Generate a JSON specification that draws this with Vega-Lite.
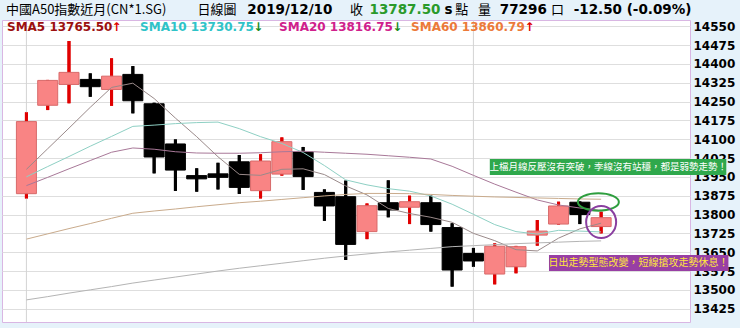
{
  "$schema": "https://vega.github.io/schema/vega-lite/v6.json",
  "width": 688,
  "height": 302,
  "autosize": {"type": "none"},
  "padding": {"left": 2, "top": 20, "right": 50, "bottom": 6},
  "background": "#e6f2fa",
  "config": {
    "view": {"fill": "white", "stroke": "#d9b6e3", "strokeWidth": 1},
    "font": "DejaVu Sans",
    "numberFormat": "d",
    "axisY": {"orient": "right", "tickCount": 20, "labelOverlap": false, "labelFont": "DejaVu Sans", "labelFontWeight": "bold", "labelFontSize": 12, "labelColor": "#000000", "ticks": false, "domain": false, "labelPadding": 3, "gridColor": "#dedede", "gridWidth": 1}
  },
  "resolve": {"scale": {"color": "independent"}},
  "datasets": {
    "candles": [
      {"i": 0, "date": "2019-11-01", "open": 13883, "high": 14207, "low": 13864, "close": 14170},
      {"i": 1, "date": "2019-11-04", "open": 14235, "high": 14336, "low": 14216, "close": 14334},
      {"i": 2, "date": "2019-11-05", "open": 14318, "high": 14491, "low": 14243, "close": 14366},
      {"i": 3, "date": "2019-11-06", "open": 14338, "high": 14362, "low": 14269, "close": 14309},
      {"i": 4, "date": "2019-11-07", "open": 14298, "high": 14422, "low": 14233, "close": 14351},
      {"i": 5, "date": "2019-11-08", "open": 14358, "high": 14391, "low": 14203, "close": 14253},
      {"i": 6, "date": "2019-11-11", "open": 14241, "high": 14245, "low": 13964, "close": 14029},
      {"i": 7, "date": "2019-11-12", "open": 14081, "high": 14099, "low": 13894, "close": 13977},
      {"i": 8, "date": "2019-11-13", "open": 13955, "high": 13984, "low": 13891, "close": 13942},
      {"i": 9, "date": "2019-11-14", "open": 13962, "high": 14006, "low": 13900, "close": 13948},
      {"i": 10, "date": "2019-11-15", "open": 14010, "high": 14037, "low": 13882, "close": 13908},
      {"i": 11, "date": "2019-11-18", "open": 13895, "high": 14040, "low": 13864, "close": 14013},
      {"i": 12, "date": "2019-11-19", "open": 13961, "high": 14107, "low": 13955, "close": 14090},
      {"i": 13, "date": "2019-11-20", "open": 14049, "high": 14069, "low": 13898, "close": 13951},
      {"i": 14, "date": "2019-11-21", "open": 13888, "high": 13900, "low": 13775, "close": 13834},
      {"i": 15, "date": "2019-11-22", "open": 13871, "high": 13935, "low": 13619, "close": 13681},
      {"i": 16, "date": "2019-11-25", "open": 13732, "high": 13844, "low": 13702, "close": 13835},
      {"i": 17, "date": "2019-11-26", "open": 13847, "high": 13936, "low": 13789, "close": 13818},
      {"i": 18, "date": "2019-11-27", "open": 13829, "high": 13875, "low": 13762, "close": 13851},
      {"i": 19, "date": "2019-11-28", "open": 13847, "high": 13875, "low": 13732, "close": 13760},
      {"i": 20, "date": "2019-11-29", "open": 13748, "high": 13765, "low": 13513, "close": 13579},
      {"i": 21, "date": "2019-12-02", "open": 13645, "high": 13667, "low": 13592, "close": 13615},
      {"i": 22, "date": "2019-12-03", "open": 13563, "high": 13685, "low": 13522, "close": 13674},
      {"i": 23, "date": "2019-12-04", "open": 13592, "high": 13675, "low": 13566, "close": 13672},
      {"i": 24, "date": "2019-12-05", "open": 13718, "high": 13778, "low": 13676, "close": 13734},
      {"i": 25, "date": "2019-12-06", "open": 13762, "high": 13851, "low": 13760, "close": 13834},
      {"i": 26, "date": "2019-12-09", "open": 13849, "high": 13852, "low": 13762, "close": 13800},
      {"i": 27, "date": "2019-12-10", "open": 13752, "high": 13811, "low": 13725, "close": 13787.5}
    ],
    "ma": [
      {"i": 0, "SMA5": 13980, "SMA10": 13950, "SMA20": 13915, "SMA60": 13702, "SMA120": 13460},
      {"i": 1, "SMA5": 14062, "SMA10": 13991, "SMA20": 13948, "SMA60": 13723, "SMA120": 13473},
      {"i": 2, "SMA5": 14144, "SMA10": 14031, "SMA20": 13982, "SMA60": 13744, "SMA120": 13487},
      {"i": 3, "SMA5": 14227, "SMA10": 14072, "SMA20": 14015, "SMA60": 13764, "SMA120": 13500},
      {"i": 4, "SMA5": 14306, "SMA10": 14111, "SMA20": 14048, "SMA60": 13785, "SMA120": 13513},
      {"i": 5, "SMA5": 14323, "SMA10": 14151, "SMA20": 14065, "SMA60": 13805, "SMA120": 13527},
      {"i": 6, "SMA5": 14262, "SMA10": 14156, "SMA20": 14060, "SMA60": 13814, "SMA120": 13539},
      {"i": 7, "SMA5": 14184, "SMA10": 14162, "SMA20": 14050, "SMA60": 13822, "SMA120": 13551},
      {"i": 8, "SMA5": 14110, "SMA10": 14166, "SMA20": 14045, "SMA60": 13831, "SMA120": 13563},
      {"i": 9, "SMA5": 14030, "SMA10": 14168, "SMA20": 14044, "SMA60": 13839, "SMA120": 13575},
      {"i": 10, "SMA5": 13960, "SMA10": 14142, "SMA20": 14044, "SMA60": 13847, "SMA120": 13586},
      {"i": 11, "SMA5": 13956, "SMA10": 14110, "SMA20": 14046, "SMA60": 13853, "SMA120": 13596},
      {"i": 12, "SMA5": 13980, "SMA10": 14083, "SMA20": 14050, "SMA60": 13860, "SMA120": 13606},
      {"i": 13, "SMA5": 13982, "SMA10": 14047, "SMA20": 14052, "SMA60": 13867, "SMA120": 13616},
      {"i": 14, "SMA5": 13959, "SMA10": 13995, "SMA20": 14048, "SMA60": 13874, "SMA120": 13626},
      {"i": 15, "SMA5": 13914, "SMA10": 13938, "SMA20": 14044, "SMA60": 13880, "SMA120": 13635},
      {"i": 16, "SMA5": 13878, "SMA10": 13918, "SMA20": 14040, "SMA60": 13884, "SMA120": 13643},
      {"i": 17, "SMA5": 13824, "SMA10": 13903, "SMA20": 14034, "SMA60": 13884, "SMA120": 13651},
      {"i": 18, "SMA5": 13804, "SMA10": 13893, "SMA20": 14028, "SMA60": 13883, "SMA120": 13658},
      {"i": 19, "SMA5": 13789, "SMA10": 13874, "SMA20": 14021, "SMA60": 13880, "SMA120": 13665},
      {"i": 20, "SMA5": 13769, "SMA10": 13841, "SMA20": 13992, "SMA60": 13876, "SMA120": 13672},
      {"i": 21, "SMA5": 13725, "SMA10": 13801, "SMA20": 13956, "SMA60": 13873, "SMA120": 13676},
      {"i": 22, "SMA5": 13696, "SMA10": 13760, "SMA20": 13921, "SMA60": 13870, "SMA120": 13680},
      {"i": 23, "SMA5": 13660, "SMA10": 13732, "SMA20": 13889, "SMA60": 13868, "SMA120": 13684},
      {"i": 24, "SMA5": 13655, "SMA10": 13722, "SMA20": 13858, "SMA60": 13866, "SMA120": 13687},
      {"i": 25, "SMA5": 13706, "SMA10": 13737, "SMA20": 13838, "SMA60": 13864, "SMA120": 13690},
      {"i": 26, "SMA5": 13743, "SMA10": 13734, "SMA20": 13826, "SMA60": 13862, "SMA120": 13693},
      {"i": 27, "SMA5": 13765.5, "SMA10": 13730.75, "SMA20": 13816.75, "SMA60": 13860.79, "SMA120": 13695}
    ],
    "months": [{"i": 0, "month": "2019-11"}, {"i": 21, "month": "2019-12"}],
    "hdr_plain": [
      {"i": -0.958, "v": 14616.4, "t": "中國A50指數近月(CN*1.SG)"},
      {"i": 8.04, "v": 14616.4, "t": "日線圖"},
      {"i": 15.2, "v": 14616.4, "t": "收"},
      {"i": 20.15, "v": 14616.4, "t": "點"},
      {"i": 21.22, "v": 14616.4, "t": "量"},
      {"i": 24.64, "v": 14616.4, "t": "口"}
    ],
    "hdr_bold": [
      {"i": 10.38, "v": 14616.4, "t": "2019/12/10"},
      {"i": 19.64, "v": 14616.4, "t": "s"},
      {"i": 22.24, "v": 14616.4, "t": "77296"},
      {"i": 25.71, "v": 14616.4, "t": "-12.50 (-0.09%)"}
    ],
    "hdr_green": [{"i": 16.12, "v": 14616.4, "t": "13787.50"}],
    "sma_lbl": [
      {"i": -0.912, "v": 14546.7, "k": "SMA5", "t": "SMA5 13765.50"},
      {"i": 5.34, "v": 14546.7, "k": "SMA10", "t": "SMA10 13730.75"},
      {"i": 11.87, "v": 14546.7, "k": "SMA20", "t": "SMA20 13816.75"},
      {"i": 18.07, "v": 14546.7, "k": "SMA60", "t": "SMA60 13860.79"}
    ],
    "arrows": [
      {"i": 4.0, "v": 14546.7, "t": "↑"},
      {"i": 10.66, "v": 14546.7, "t": "↓"},
      {"i": 17.19, "v": 14546.7, "t": "↓"},
      {"i": 23.4, "v": 14546.7, "t": "↑"}
    ],
    "note_green": [{"i": 21.77, "i2": 32.88, "v": 13957, "v2": 14021, "ic": 27.33, "vc": 13989, "t": "上檔月線反壓沒有突破，季線沒有站穩，都是弱勢走勢！"}],
    "note_purple": [{"i": 24.55, "i2": 32.98, "v": 13575, "v2": 13639, "ic": 28.76, "vc": 13607, "t": "日出走勢型態改變，短線搶攻走勢休息！"}],
    "ring_green": [{"i": 26.87, "v": 13850}],
    "ring_purple": [{"i": 27.0, "v": 13770}]
  },
  "layer": [
    {
      "data": {"name": "candles"},
      "mark": {"type": "rule", "strokeWidth": 3},
      "encoding": {
        "x": {"field": "i", "type": "quantitative", "scale": {"domain": [-0.912, 30.94], "nice": false, "zero": false}, "axis": null},
        "y": {
          "field": "low", "type": "quantitative", "title": null,
          "scale": {"domain": [13372, 14574.6], "nice": false, "zero": false},
          "axis": {
            "orient": "right", "title": null, "format": "d", "tickCount": 20, "values": [13425, 13500, 13575, 13650, 13725, 13800, 13875, 13950, 14025, 14100, 14175, 14250, 14325, 14400, 14475, 14550],
            "ticks": false, "domain": false, "labelFont": "DejaVu Sans", "labelFontWeight": "bold", "labelFontSize": 12, "labelColor": "#000000",
            "labelPadding": 3, "grid": true, "gridColor": "#dedede", "gridWidth": 1, "labelOverlap": false
          }
        },
        "y2": {"field": "high"},
        "color": {"condition": {"test": "datum.close > datum.open", "value": "#e00000"}, "value": "#000000"}
      }
    },
    {
      "data": {"name": "months"},
      "mark": {"type": "rule", "color": "#d4d4d4", "strokeWidth": 1},
      "encoding": {
        "x": {"field": "i", "type": "quantitative", "axis": null}
      }
    },
    {
      "data": {"name": "candles"},
      "mark": {"type": "rule", "strokeWidth": 3},
      "encoding": {
        "x": {"field": "i", "type": "quantitative", "axis": null},
        "y": {"field": "low", "type": "quantitative", "title": null},
        "y2": {"field": "high"},
        "color": {"condition": {"test": "datum.close > datum.open", "value": "#e00000"}, "value": "#000000"}
      }
    },
    {
      "data": {"name": "candles"},
      "mark": {"type": "bar", "size": 20, "strokeWidth": 1},
      "encoding": {
        "x": {"field": "i", "type": "quantitative", "axis": null},
        "y": {"field": "open", "type": "quantitative", "title": null},
        "y2": {"field": "close"},
        "fill": {"condition": {"test": "datum.close > datum.open", "value": "#f98484"}, "value": "#000000"},
        "stroke": {"condition": {"test": "datum.close > datum.open", "value": "#d86a6a"}, "value": "#000000"}
      }
    },
    {
      "data": {"name": "ma"},
      "transform": [{"fold": ["SMA5", "SMA10", "SMA20", "SMA60", "SMA120"], "as": ["ma", "value"]}],
      "mark": {"type": "line", "strokeWidth": 1},
      "encoding": {
        "x": {"field": "i", "type": "quantitative", "axis": null},
        "y": {"field": "value", "type": "quantitative", "title": null},
        "color": {"field": "ma", "type": "nominal", "scale": {"domain": ["SMA5", "SMA10", "SMA20", "SMA60", "SMA120"], "range": ["#9a8a8a", "#8ed0c4", "#a87898", "#c9ab8c", "#b4b4b4"]}, "legend": null}
      }
    },
    {
      "data": {"name": "ring_green"},
      "mark": {"type": "point", "shape": "M-1,0C-1,-0.2342,-0.5523,-0.424,0,-0.424C0.5523,-0.424,1,-0.2342,1,0C1,0.2342,0.5523,0.424,0,0.424C-0.5523,0.424,-1,0.2342,-1,0Z", "size": 1681, "filled": false, "color": "#2e9e3e", "strokeWidth": 2, "opacity": 1},
      "encoding": {
        "x": {"field": "i", "type": "quantitative", "axis": null},
        "y": {"field": "v", "type": "quantitative", "title": null}
      }
    },
    {
      "data": {"name": "ring_purple"},
      "mark": {"type": "point", "shape": "M-0.9375,0C-0.9375,-0.5523,-0.5178,-1,0,-1C0.5178,-1,0.9375,-0.5523,0.9375,0C0.9375,0.5523,0.5178,1,0,1C-0.5178,1,-0.9375,0.5523,-0.9375,0Z", "size": 1024, "filled": false, "color": "#8a3fa0", "strokeWidth": 2, "opacity": 1},
      "encoding": {
        "x": {"field": "i", "type": "quantitative", "axis": null},
        "y": {"field": "v", "type": "quantitative", "title": null}
      }
    },
    {
      "data": {"name": "note_green"},
      "mark": {"type": "rect", "color": "#2fa84c"},
      "encoding": {
        "x": {"field": "i", "type": "quantitative", "axis": null},
        "x2": {"field": "i2"},
        "y": {"field": "v", "type": "quantitative", "title": null},
        "y2": {"field": "v2"}
      }
    },
    {
      "data": {"name": "note_green"},
      "mark": {"type": "text", "font": "Noto Sans CJK TC", "fontSize": 9.5, "color": "#ffffff", "align": "center", "baseline": "middle"},
      "encoding": {
        "x": {"field": "ic", "type": "quantitative", "axis": null},
        "y": {"field": "vc", "type": "quantitative", "title": null},
        "text": {"field": "t"}
      }
    },
    {
      "data": {"name": "note_purple"},
      "mark": {"type": "rect", "color": "#983fa4"},
      "encoding": {
        "x": {"field": "i", "type": "quantitative", "axis": null},
        "x2": {"field": "i2"},
        "y": {"field": "v", "type": "quantitative", "title": null},
        "y2": {"field": "v2"}
      }
    },
    {
      "data": {"name": "note_purple"},
      "mark": {"type": "text", "font": "Noto Sans CJK TC", "fontSize": 10, "color": "#ffe63c", "align": "center", "baseline": "middle"},
      "encoding": {
        "x": {"field": "ic", "type": "quantitative", "axis": null},
        "y": {"field": "vc", "type": "quantitative", "title": null},
        "text": {"field": "t"}
      }
    },
    {
      "data": {"name": "hdr_plain"},
      "mark": {"type": "text", "font": "Noto Sans CJK TC", "fontSize": 13, "color": "#000000", "align": "left", "baseline": "middle"},
      "encoding": {
        "x": {"field": "i", "type": "quantitative", "axis": null},
        "y": {"field": "v", "type": "quantitative", "title": null},
        "text": {"field": "t"}
      }
    },
    {
      "data": {"name": "hdr_bold"},
      "mark": {"type": "text", "font": "DejaVu Sans", "fontWeight": "bold", "fontSize": 13.5, "color": "#000000", "align": "left", "baseline": "middle"},
      "encoding": {
        "x": {"field": "i", "type": "quantitative", "axis": null},
        "y": {"field": "v", "type": "quantitative", "title": null},
        "text": {"field": "t"}
      }
    },
    {
      "data": {"name": "hdr_green"},
      "mark": {"type": "text", "font": "DejaVu Sans", "fontWeight": "bold", "fontSize": 13.5, "color": "#2a9a2a", "align": "left", "baseline": "middle"},
      "encoding": {
        "x": {"field": "i", "type": "quantitative", "axis": null},
        "y": {"field": "v", "type": "quantitative", "title": null},
        "text": {"field": "t"}
      }
    },
    {
      "data": {"name": "sma_lbl"},
      "mark": {"type": "text", "font": "DejaVu Sans", "fontWeight": "bold", "fontSize": 12, "align": "left", "baseline": "middle"},
      "encoding": {
        "x": {"field": "i", "type": "quantitative", "axis": null},
        "y": {"field": "v", "type": "quantitative", "title": null},
        "text": {"field": "t"},
        "color": {"field": "k", "type": "nominal", "scale": {"domain": ["SMA5", "SMA10", "SMA20", "SMA60"], "range": ["#9c1010", "#2fc3c8", "#d0208c", "#ec7a3a"]}, "legend": null}
      }
    },
    {
      "data": {"name": "arrows"},
      "mark": {"type": "text", "font": "DejaVu Sans", "fontWeight": "bold", "fontSize": 12, "align": "left", "baseline": "middle"},
      "encoding": {
        "x": {"field": "i", "type": "quantitative", "axis": null},
        "y": {"field": "v", "type": "quantitative", "title": null},
        "text": {"field": "t"},
        "color": {"condition": {"test": "datum.t == '↑'", "value": "#e00000"}, "value": "#1a8a1a"}
      }
    }
  ]
}
